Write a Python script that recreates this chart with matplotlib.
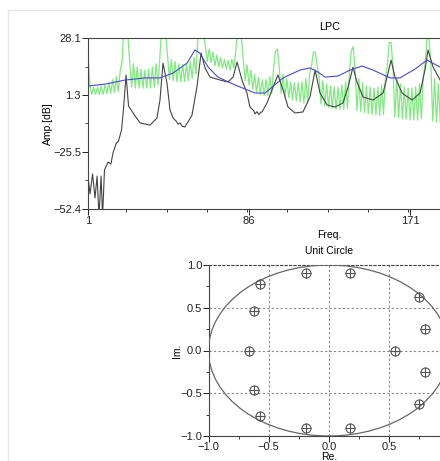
import matplotlib
matplotlib.use("Agg")
import matplotlib.pyplot as plt
from matplotlib.lines import Line2D
from matplotlib.ticker import MultipleLocator, FixedLocator

plt.rcParams['font.family'] = ['Liberation Sans', 'DejaVu Sans']

# ---------------- data: top panel (LPC spectrum) ----------------
green_amp = [
    21, 6, 1.5, 5, 1.5, 5, 1.5, 5.5, 1.5, 6,
    2, 7, 2, 8.5, 2.5, 10, 3, 12.5, 17, 36,
    38, 30, 17, 5, 16, 4.5, 14.5, 4.5, 13.5, 4.5,
    13, 4.5, 13.5, 4.5, 14.5, 5, 16, 6, 20, 34,
    38, 30, 20, 8.5, 18, 8, 17, 7.5, 16, 7.5,
    15.5, 7.5, 16, 8, 17, 9, 19, 11, 28, 36,
    38, 30, 24, 17, 23, 16.5, 21.5, 15, 20, 14.5,
    19, 14, 18, 13.5, 17.5, 13, 18, 14, 22, 32,
    36, 28, 18, 8, 15.5, 6, 13, 4, 11, 2.5,
    9.5, 1.5, 8.5, 1, 8.5, 1, 10, 2, 14, 22,
    23, 14, 2, 11, 0.5, 9, 0, 7.5, -1, 7,
    -1.5, 7, -2, 7.5, -2.5, 9, -2, 11, 15, 21.5,
    21.5, 15, 10, -3, 8, -4, 6.5, -4.5, 5.5, -5,
    5, -5.5, 5, -5.5, 6, -5.5, 7.5, -5, 12, 22,
    24, 14, -6, 9, -6.5, 7, -7, 5.5, -7.5, 5,
    -8, 4.5, -8, 5, -8.5, 6, -8, 9, 15, 26,
    26, 15, -9, 9, -9.5, 6.5, -10, 5, -10, 4.5,
    -10.5, 4.5, -10.5, 5, -10.5, 6.5, -10, 10, 16, 28,
    28, 16, -11, 9, -11.5, 6.5, -12, 5, -12, 4.5,
]
green_bin = list(range(1, len(green_amp) + 1))

black_bin = [1.2, 2.1, 3.4, 4.7, 5.8, 6.8, 7.9, 8.7, 9.7, 11.6,
             13.1, 14.2, 16.0, 17.1, 18.7, 19.7, 21.1, 22.4, 24.8, 28.5,
             33.7, 37.4, 39.0, 40.6, 42.7, 44.3, 45.9, 47.5, 48.6, 49.6,
             50.8, 52.2, 53.0, 53.8, 55.9, 58.5, 60.7, 62.8, 65.4, 70.7,
             74.9, 77.6, 79.7, 82.3, 84.9, 86.5, 88.4, 89.2, 90.2, 91.3,
             92.1, 92.9, 95.5, 98.7, 101.3, 104.0, 106.6, 110.3, 114.5, 118.2,
             120.9, 123.5, 127.2, 131.4, 135.6, 138.3, 140.9, 143.0, 146.2, 151.5,
             156.8, 159.4, 161.0, 163.1, 166.8, 172.1, 176.3, 178.9, 180.5, 183.2,
             186.9]
black_amp = [-38.8, -45.3, -35.9, -47.2, -36.9, -56.0, -36.9, -56.0, -34.0, -30.3,
             -31.2, -26.0, -21.3, -20.4, -15.2, -5.8, 10.7, -3.9, -7.2, -11.9,
             -12.9, -9.6, -1.1, 16.3, 6.9, -5.8, -9.6, -11.0, -12.5, -11.9,
             -13.5, -13.8, -12.3, -11.4, -8.2, 5.0, 21.0, 14.0, 9.7, 8.3,
             7.4, 9.7, 16.8, 8.3, 2.2, -4.4, -6.0, -7.6, -6.6, -8.0,
             -6.9, -6.7, -2.5, 5.0, 10.7, 3.6, -4.4, -7.2, -6.7, 0.3,
             13.0, 2.2, -3.4, -4.4, -2.5, 5.0, 14.4, 7.4, 0.3, -1.1,
             2.2, 11.6, 17.7, 9.7, 2.2, -1.1, 2.2, 13.0, 22.5, 14.4,
             8.3]

blue_bin = [1, 10.0, 20.5, 31.1, 39.0, 45.9, 53.3, 57.5, 59.1, 60.1,
            64.4, 69.6, 78.6, 89.2, 94.5, 104.0, 112.9, 118.2, 122.4, 126.1,
            133.0, 139.3, 145.7, 151.5, 160.5, 165.7, 173.7, 180.0, 186.9]
blue_amp = [5.5, 6.4, 8.3, 9.3, 9.3, 11.6, 16.3, 22.5, 21.5, 21.0,
            14.4, 9.7, 6.0, 2.2, 2.2, 9.3, 13.0, 14.0, 12.1, 9.7,
            10.2, 13.0, 14.9, 13.0, 9.3, 9.3, 13.5, 17.7, 14.4]

amp_ticks = [-52.4, -25.567, 1.267, 28.1]
amp_labels = ['\u221252.4', '\u221225.5', '1.3', '28.1']
freq_ticks = [1, 86, 171, 256]
freq_labels = ['1', '86', '171', '']   # last one lies outside the cropped picture

# ---------------- data: bottom panel (roots on unit circle) ----------------
root_re = [-0.57, -0.19, 0.175, 0.747, 0.797, 0.547, 0.797, 0.747,
           0.175, -0.19, -0.57, -0.622, -0.66, -0.622]
root_im = [0.773, 0.91, 0.91, 0.627, 0.25, 0.0, -0.25, -0.63,
           -0.91, -0.91, -0.77, -0.46, 0.0, 0.46]
circle_ticks = [-1.0, -0.5, 0.0, 0.5, 1.0]
re_labels = ['\u22121.0', '\u22120.5', '0.0', '0.5', '']
im_labels = ['\u22121.0', '\u22120.5', '0.0', '0.5', '1.0']

# ---------------- figure ----------------
W, H = 440, 461
fig = plt.figure(figsize=(W / 100, H / 100), dpi=100)

# faint outer panel frame
fig.add_artist(Line2D([8 / W, 1.0], [1 - 10 / H, 1 - 10 / H], color='#e6e6e6', lw=1.0))
fig.add_artist(Line2D([8 / W, 8 / W], [0.0, 1 - 10 / H], color='#e6e6e6', lw=1.0))

fs = 8
tick_col = '#222222'

# top axes (extends beyond right edge of the picture)
ax1 = fig.add_axes([88 / W, 1 - 209 / H, (571 - 88) / W, (209 - 38) / H])
ax1.plot(green_bin, green_amp, color='#80ea80', lw=0.9, zorder=2)
ax1.plot(black_bin, black_amp, color='#444444', lw=0.8, zorder=3)
ax1.plot(blue_bin, blue_amp, color='#4a4ad0', lw=0.8, zorder=4)
ax1.set_xlim(1, 256)
ax1.set_ylim(-52.4, 28.1)
ax1.set_xticks(freq_ticks)
ax1.set_xticklabels(freq_labels)
ax1.xaxis.set_minor_locator(MultipleLocator(21.25))
ax1.set_yticks(amp_ticks)
ax1.set_yticklabels(amp_labels)
ax1.yaxis.set_minor_locator(FixedLocator([-38.98, -12.15, 14.68]))
ax1.set_title('LPC', fontsize=7.8, pad=6)
ax1.set_xlabel('Freq.', fontsize=7.5, labelpad=3)
ax1.set_ylabel('Amp.[dB]', fontsize=7.5, labelpad=0)
for sp in ax1.spines.values():
    sp.set_color('#444444')
    sp.set_linewidth(0.8)
ax1.tick_params(which='major', length=4, width=0.7, colors=tick_col, labelsize=fs, pad=1)
ax1.tick_params(which='minor', length=2.5, width=0.6, colors=tick_col)

# bottom axes (unit circle)
ax2 = fig.add_axes([208.5 / W, 1 - 436 / H, (449 - 208.5) / W, (436 - 265) / H])
ax2.add_patch(plt.Circle((0, 0), 1.0, fill=False, color='#666666', lw=0.9, zorder=3))
ax2.plot(root_re, root_im, linestyle='none', marker='o', ms=6.5, mfc='none',
         mec='#555555', mew=0.8, zorder=4)
ax2.plot(root_re, root_im, linestyle='none', marker='+', ms=6.5,
         mec='#555555', mew=0.8, zorder=4)
ax2.set_xlim(-1.0, 1.0)
ax2.set_ylim(-1.0, 1.0)
ax2.set_xticks(circle_ticks)
ax2.set_xticklabels(re_labels)
ax2.set_yticks(circle_ticks)
ax2.set_yticklabels(im_labels)
ax2.xaxis.set_minor_locator(MultipleLocator(0.25))
ax2.yaxis.set_minor_locator(MultipleLocator(0.25))
ax2.grid(True, which='major', linestyle=(0, (2, 2)), color='#888888', lw=0.8)
ax2.set_axisbelow(True)
ax2.text(0.5, 1.05, 'Unit Circle', transform=ax2.transAxes, ha='center', va='bottom', fontsize=7.5)
ax2.set_xlabel('Re.', fontsize=7.5, labelpad=0)
ax2.set_ylabel('Im.', fontsize=7.5, labelpad=-1.5)
ax2.spines['top'].set_linestyle((0, (2, 2)))
for sp in ax2.spines.values():
    sp.set_color('#444444')
    sp.set_linewidth(0.8)
ax2.spines['right'].set_visible(False)
ax2.tick_params(which='major', length=4, width=0.7, colors=tick_col, labelsize=fs, pad=0.5)
ax2.tick_params(which='minor', length=2.5, width=0.6, colors=tick_col)

fig.savefig('out.png', dpi=100)
